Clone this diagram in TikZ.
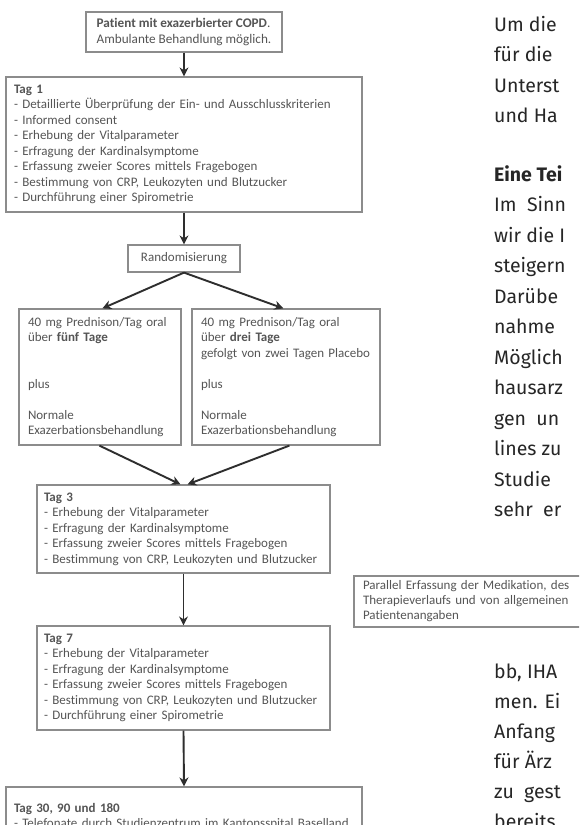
\documentclass[tikz,border=0pt]{standalone}
\usepackage{fontspec}
\setmainfont{Carlito}[Ligatures=NoCommon]
\newfontfamily\bodyfont{Fira Sans}
\usetikzlibrary{arrows.meta,calc}
\definecolor{boxline}{HTML}{8C8C8C}
\definecolor{boxtext}{HTML}{555555}
\definecolor{arrowc}{HTML}{2E2E2E}
\definecolor{bodytext}{HTML}{262626}
\begin{document}
\begin{tikzpicture}[x=1pt,y=-1pt,
  box/.style={draw=boxline, line width=1.2pt, text=boxtext, font=\fontsize{13}{15.5}\selectfont, align=left, inner xsep=0pt, inner ysep=0pt},
  flow/.style={draw=arrowc, line width=1.9pt, -{Stealth[length=9pt,width=9pt]}},
  body/.style={anchor=base west, text=bodytext, font=\bodyfont\fontsize{19.5}{22}\selectfont, inner sep=0pt},
  bodyhead/.style={body, font=\bodyfont\bfseries\fontsize{19.5}{22}\selectfont}]
\useasboundingbox (0,0) rectangle (579,825);
\clip (0,0) rectangle (579,825);
\fill[white] (0,0) rectangle (579,825);

\node[box, minimum width=196pt, minimum height=40pt, font=\fontsize{13.2}{16.5}\selectfont] (start) at (184,32)
  {\textbf{Patient mit exazerbierter COPD}.\\Ambulante Behandlung möglich.};
\node[box, minimum width=356pt, minimum height=135pt, text width=340pt] (tag1) at (184,144.5)
  {\textbf{Tag 1}\\- Detaillierte Überprüfung der Ein- und Ausschlusskriterien\\- Informed consent\\- Erhebung der Vitalparameter\\- Erfragung der Kardinalsymptome\\- Erfassung zweier Scores mittels Fragebogen\\- Bestimmung von CRP, Leukozyten und Blutzucker\\- Durchführung einer Spirometrie};
\node[box, align=center, minimum width=112pt, minimum height=27pt] (rand) at (184,258.5) {Randomisierung};
\node[box, minimum width=162pt, minimum height=136pt, text width=144pt] (armA) at (100,377)
  {40 mg Prednison/Tag oral\\über \textbf{fünf Tage}\\\mbox{}\\\mbox{}\\plus\\\mbox{}\\Normale\\Exazerbationsbehandlung};
\node[box, minimum width=188pt, minimum height=136pt, text width=170pt] (armB) at (286,377)
  {40 mg Prednison/Tag oral\\über \textbf{drei Tage}\\gefolgt von zwei Tagen Placebo\\\mbox{}\\plus\\\mbox{}\\Normale\\Exazerbationsbehandlung};
\node[box, minimum width=293pt, minimum height=88pt, text width=279pt] (tag3) at (183.5,529)
  {\textbf{Tag 3}\\- Erhebung der Vitalparameter\\- Erfragung der Kardinalsymptome\\- Erfassung zweier Scores mittels Fragebogen\\- Bestimmung von CRP, Leukozyten und Blutzucker};
\node[box, minimum width=293pt, minimum height=104pt, text width=279pt] (tag7) at (183.5,678)
  {\textbf{Tag 7}\\- Erhebung der Vitalparameter\\- Erfragung der Kardinalsymptome\\- Erfassung zweier Scores mittels Fragebogen\\- Bestimmung von CRP, Leukozyten und Blutzucker\\- Durchführung einer Spirometrie};
\node[box, minimum width=356pt, minimum height=88pt, text width=340pt] (tag30) at (184,831)
  {\textbf{Tag 30, 90 und 180}\\- Telefonate durch Studienzentrum im Kantonsspital Baselland\\\mbox{}\\\mbox{}};
\node[box, minimum width=266pt, minimum height=51pt, text width=248pt, font=\fontsize{13}{15}\selectfont] (par) at (487,601.5)
  {Parallel Erfassung der Medikation, des\\Therapieverlaufs und von allgemeinen\\Patientenangaben};

\draw[flow] (start.south) -- (tag1.north);
\draw[flow] (tag1.south) -- (rand.north);
\draw[flow] (rand.south) -- ([xshift=84pt]armA.north west);
\draw[flow] (rand.south) -- ([xshift=92pt]armB.north west);
\draw[flow] ([xshift=81pt]armA.south west) -- ([xshift=-3pt]tag3.north);
\draw[flow] ([xshift=98pt]armB.south west) -- ([xshift=4pt]tag3.north);
\draw[flow] (tag3.south) -- (tag7.north);
\draw[flow] (tag7.south) -- (tag30.north);

\node[body] (t1) at (494,31) {Um die};
\node[body] (t2) at (494,61.5) {für die};
\node[body] (t3) at (494,92) {Unterst};
\node[body] (t4) at (494,122.5) {und Ha};
\node[bodyhead] (t5) at (494,181) {Eine Tei};
\node[body] (t6) at (494,211.5) {Im\ \ Sinn};
\node[body] (t7) at (494,242) {wir die I};
\node[body] (t8) at (494,272.5) {steigern};
\node[body] (t9) at (494,303) {Darübe};
\node[body] (t10) at (494,333.5) {nahme};
\node[body] (t11) at (494,364) {Möglich};
\node[body] (t12) at (494,394.5) {hausarz};
\node[body] (t13) at (494,425) {gen\ \ un};
\node[body] (t14) at (494,455.5) {lines zu};
\node[body] (t15) at (494,486) {Studie};
\node[body] (t16) at (494,516.5) {sehr\ \ er};
\node[body] (t17) at (494,678) {bb, IHA};
\node[body] (t18) at (494,708) {men. Ei};
\node[body] (t19) at (494,738) {Anfang};
\node[body] (t20) at (494,768) {für Ärz};
\node[body] (t21) at (494,798) {zu\ \ gest};
\node[body] (t22) at (494,828) {bereits};
\end{tikzpicture}
\end{document}
